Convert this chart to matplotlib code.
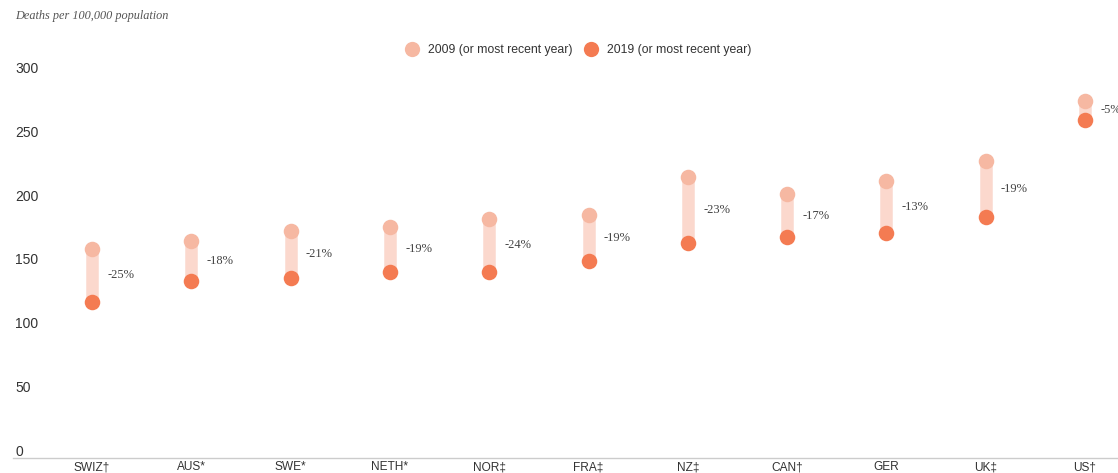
import matplotlib
matplotlib.use("Agg")
import matplotlib.pyplot as plt
from matplotlib.lines import Line2D
import matplotlib.transforms as mtransforms

countries = ["SWIZ\u2020", "AUS*", "SWE*", "NETH*", "NOR\u2021", "FRA\u2021",
             "NZ\u2021", "CAN\u2020", "GER", "UK\u2021", "US\u2020"]
deaths_2009 = [164, 170, 178, 181, 187, 190, 220, 206.5, 217, 233, 280]
deaths_2019 = [122.5, 139, 141, 146, 146, 154, 168.5, 173, 176, 188.5, 264.5]
change_labels = ["-25%", "-18%", "-21%", "-19%", "-24%", "-19%",
                 "-23%", "-17%", "-13%", "-19%", "-5%"]
y_ticks = [0, 50, 100, 150, 200, 250, 300]

W, H = 1118, 473
fig = plt.figure(figsize=(W / 100, H / 100), dpi=100)
left_px, right_px, top_px, bottom_px = 13, 1118, 75, 458
ax = fig.add_axes([left_px / W, (H - bottom_px) / H,
                   (right_px - left_px) / W, (bottom_px - top_px) / H])

c09 = "#F6B8A2"
c19 = "#F47B52"
cbar = "#FBD8CD"

x = list(range(len(countries)))
ax.vlines(x, deaths_2019, deaths_2009, colors=cbar, linewidth=9, zorder=1,
          capstyle="butt")
ax.scatter(x, deaths_2009, s=125, color=c09, zorder=2, linewidths=0, clip_on=False)
ax.scatter(x, deaths_2019, s=125, color=c19, zorder=3, linewidths=0, clip_on=False)

for xi, a, b, lab in zip(x, deaths_2009, deaths_2019, change_labels):
    ax.annotate(lab, xy=(xi, (a + b) / 2), xytext=(11, 0), textcoords="offset points",
                ha="left", va="center", fontsize=9, color="#444444",
                family="Liberation Serif", clip_on=False)

ax.set_xlim(-(92 - left_px) / 99.3, 10 + (right_px - 1085) / 99.3)
ax.set_ylim(0, 300)

for s in ["top", "right", "left"]:
    ax.spines[s].set_visible(False)
ax.spines["bottom"].set_color("#cccccc")
ax.spines["bottom"].set_linewidth(1)

ax.set_xticks(x)
ax.set_xticklabels(countries, family="Liberation Sans", fontsize=8.6, color="#333333")
ax.tick_params(axis="x", length=0, pad=2.5)

ax.set_yticks(y_ticks)
ax.set_yticklabels([str(t) for t in y_ticks], family="Liberation Sans",
                   fontsize=10, color="#333333")
ax.tick_params(axis="y", length=0, pad=0)
off = mtransforms.ScaledTranslation(2 / 100, -1 / 100, fig.dpi_scale_trans)
for lab in ax.get_yticklabels():
    lab.set_horizontalalignment("left")
    lab.set_verticalalignment("bottom")
    lab.set_transform(lab.get_transform() + off)

fig.text(15 / W, 1 - 16 / H, "Deaths per 100,000 population", fontsize=8.8,
         style="italic", family="Liberation Serif", color="#555555",
         ha="left", va="center")

handles = [
    Line2D([], [], marker="o", linestyle="none", markersize=11, color=c09,
           markeredgewidth=0, label="2009 (or most recent year)"),
    Line2D([], [], marker="o", linestyle="none", markersize=11, color=c19,
           markeredgewidth=0, label="2019 (or most recent year)"),
]
leg = fig.legend(handles=handles, loc="center", bbox_to_anchor=(578 / W, 1 - 50 / H),
                 ncol=2, frameon=False, handletextpad=0.7, columnspacing=0.9,
                 handlelength=1.2, prop={"family": "Liberation Sans", "size": 8.8})
for t in leg.get_texts():
    t.set_color("#333333")

fig.savefig("out.png", dpi=100)
